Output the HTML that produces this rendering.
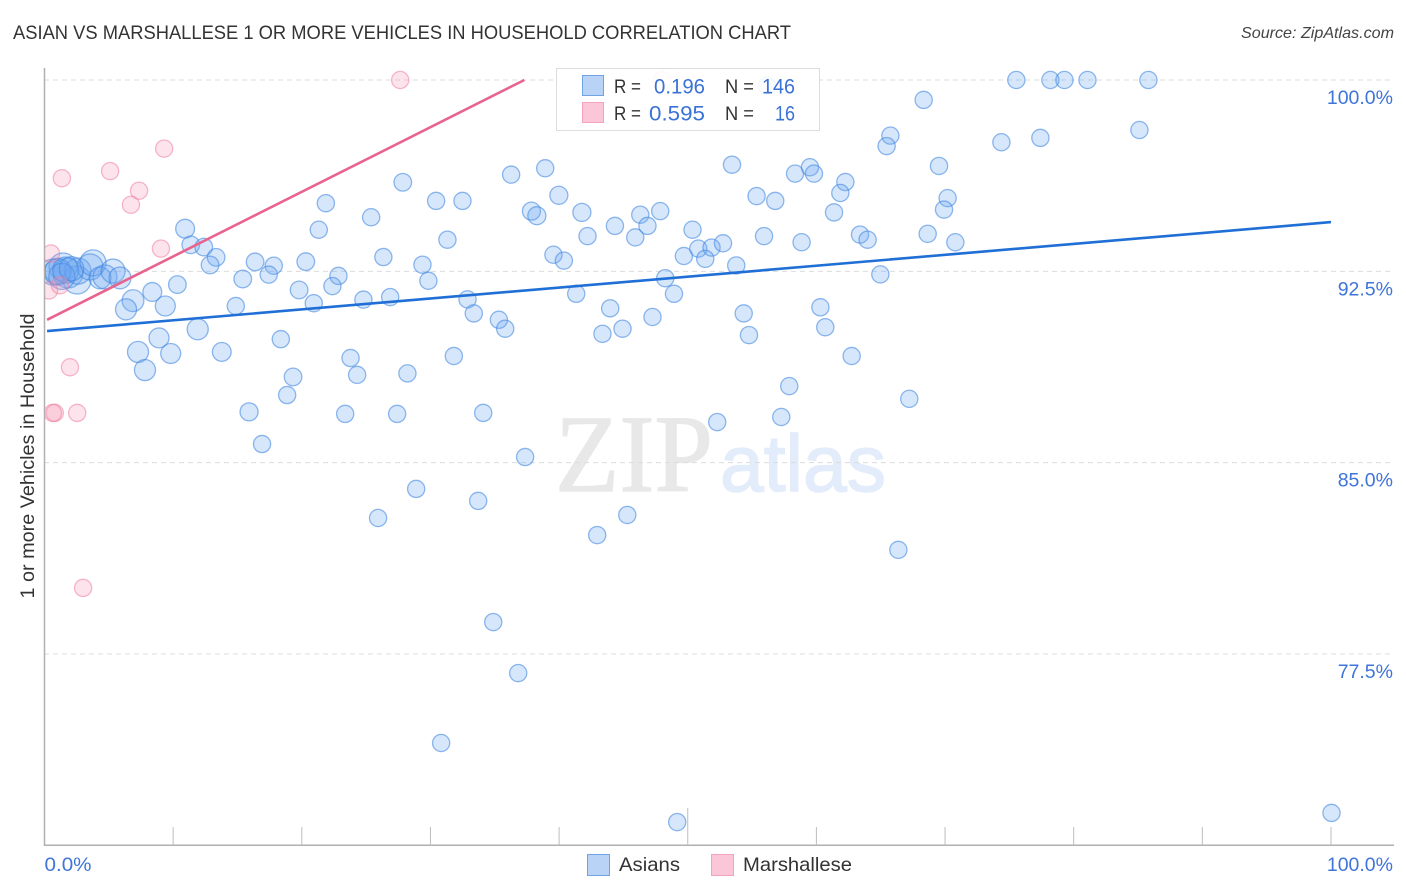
<!DOCTYPE html>
<html lang="en">
<head>
<meta charset="utf-8">
<title>Asian vs Marshallese correlation chart</title>
<style>
html,body{margin:0;padding:0;background:#fff}
svg{display:block;font-family:"Liberation Sans",sans-serif}
</style>
</head>
<body>
<svg id="chart" xmlns="http://www.w3.org/2000/svg" width="1406" height="892" viewBox="0 0 1406 892">
  <defs>
    <clipPath id="plot-clip"><rect x="45" y="60" width="1349" height="786"></rect></clipPath>
  </defs>
  <rect x="0" y="0" width="1406" height="892" fill="#ffffff"></rect>
  <text x="13" y="39" font-size="19" fill="#333333" textLength="778" lengthAdjust="spacingAndGlyphs">ASIAN VS MARSHALLESE 1 OR MORE VEHICLES IN HOUSEHOLD CORRELATION CHART</text>
  <text x="1241" y="38" font-size="16" font-style="italic" fill="#444444" textLength="153" lengthAdjust="spacingAndGlyphs">Source: ZipAtlas.com</text>
  <text x="555" y="491" font-family="'Liberation Serif',serif" font-size="110" fill="#e8e8e8" stroke="#e8e8e8" stroke-width="1.2" textLength="158" lengthAdjust="spacingAndGlyphs">ZIP</text>
  <text x="720" y="491" font-size="80" fill="#e3ecfa" stroke="#e3ecfa" stroke-width="1.5" textLength="166" lengthAdjust="spacingAndGlyphs">atlas</text>
  <g id="grid-layer"></g>
  <g id="axis-layer"></g>
  <g id="asian-layer" clip-path="url(#plot-clip)"></g>
  <g id="marshallese-layer" clip-path="url(#plot-clip)"></g>
  <g id="trend-layer"></g>
  <text transform="translate(34,456) rotate(-90)" font-size="19" fill="#333333" text-anchor="middle" textLength="285" lengthAdjust="spacingAndGlyphs">1 or more Vehicles in Household</text>

  <g>
    <rect x="556.5" y="68.5" width="263" height="62" fill="#ffffff" fill-opacity="0.9" stroke="#dddddd" stroke-width="1"></rect>
    <rect x="582.5" y="75.5" width="21" height="20" fill="#b9d3f6" stroke="#6fa3e6" stroke-width="1"></rect>
    <rect x="582.5" y="102.5" width="21" height="20" fill="#fbc6d7" stroke="#f3a3bd" stroke-width="1"></rect>
    <text x="614" y="93" font-size="19" fill="#333333" textLength="27" lengthAdjust="spacingAndGlyphs">R =</text>
    <text x="654" y="93.5" font-size="21" fill="#3a72d6" textLength="51" lengthAdjust="spacingAndGlyphs">0.196</text>
    <text x="725" y="93" font-size="19" fill="#333333" textLength="29" lengthAdjust="spacingAndGlyphs">N =</text>
    <text x="762" y="93.5" font-size="21" fill="#3a72d6" textLength="33" lengthAdjust="spacingAndGlyphs">146</text>
    <text x="614" y="120" font-size="19" fill="#333333" textLength="27" lengthAdjust="spacingAndGlyphs">R =</text>
    <text x="649" y="120.5" font-size="21" fill="#3a72d6" textLength="56" lengthAdjust="spacingAndGlyphs">0.595</text>
    <text x="725" y="120" font-size="19" fill="#333333" textLength="29" lengthAdjust="spacingAndGlyphs">N =</text>
    <text x="775" y="120.5" font-size="21" fill="#3a72d6" textLength="20" lengthAdjust="spacingAndGlyphs">16</text>
  </g>

  <g>
    <rect x="587.5" y="854.5" width="22" height="21" fill="#b9d3f6" stroke="#6fa3e6" stroke-width="1"></rect>
    <text x="619" y="871" font-size="19.5" fill="#333333" textLength="61" lengthAdjust="spacingAndGlyphs">Asians</text>
    <rect x="711.5" y="854.5" width="22" height="21" fill="#fbc6d7" stroke="#f3a3bd" stroke-width="1"></rect>
    <text x="743" y="871" font-size="19.5" fill="#333333" textLength="109" lengthAdjust="spacingAndGlyphs">Marshallese</text>
  </g>
</svg>
<script>
// Chart data (percent units)
const xTickValues = [0,10,20,30,40,50,60,70,80,90,100];
const xTallTicks = [50];
const xEdgeLabels = ['0.0%','100.0%'];
const yGridValues = [100,92.5,85,77.5];
const yTickLabels = ['100.0%','92.5%','85.0%','77.5%'];

const asianX = [
10.93,11.37,12.38,13.34,12.87,16.37,17.82,17.43,15.41,20.31,21.87,21.32,25.39,26.34,22.85,22.38,19.79,20.93,24.79,26.87,
14.87,10.33,8.38,6.88,6.34,9.39,11.91,8.90,18.37,7.27,9.81,13.78,7.81,23.79,24.30,19.32,18.86,15.90,16.91,23.37,
27.41,28.21,27.85,30.44,32.49,31.32,36.27,38.92,39.98,37.85,38.27,41.77,42.21,44.34,46.31,47.86,46.87,45.92,39.56,40.37,
29.38,29.84,32.88,33.37,35.32,35.81,31.82,41.33,43.97,43.37,44.93,47.26,48.25,48.93,49.70,50.37,50.82,51.85,51.36,52.74,
53.77,53.44,54.35,68.34,74.38,65.75,65.46,69.53,58.34,59.50,59.81,62.25,61.86,61.37,70.20,69.92,55.35,56.80,55.93,58.85,
63.39,63.98,68.65,70.80,64.97,54.76,60.31,60.69,62.74,56.16,34.10,37.36,28.89,33.71,25.93,42.96,45.30,34.88,36.82,30.83,
49.18,52.29,57.27,57.89,67.22,66.37,100.04,75.54,78.19,79.28,81.07,85.81,85.11,77.41,
0.66,1.44,0.97,1.83,2.53,2.60,3.54,3.77,4.32,4.70,5.33,5.87,1.05,1.65,1.35,2.1];

const asianY = [
94.17,93.54,93.45,93.05,92.75,92.87,92.72,92.37,92.20,92.88,95.17,94.13,94.62,93.06,92.32,91.92,91.77,91.25,91.39,91.49,
91.14,91.98,91.69,91.35,91.01,91.14,90.23,89.89,89.84,89.34,89.28,89.34,88.63,89.10,88.44,88.36,87.65,86.99,85.73,86.91,
86.91,88.50,95.99,95.26,95.26,93.74,96.29,96.54,95.48,94.86,94.68,94.81,93.88,94.28,94.72,94.86,94.28,93.83,93.15,92.92,
92.76,92.13,91.40,90.85,90.60,90.25,89.18,91.62,91.05,90.05,90.25,90.71,92.23,91.62,93.10,94.13,93.39,93.43,92.99,93.60,
92.73,96.68,90.85,99.22,97.56,97.82,97.41,96.63,96.33,96.58,96.33,96.00,95.57,94.81,95.37,94.92,95.45,95.26,93.88,93.64,
93.94,93.74,93.97,93.64,92.38,90.00,91.09,90.31,89.18,99.78,86.95,85.22,83.97,83.50,82.83,82.16,82.95,78.75,76.75,74.01,
70.91,86.59,86.79,88.00,87.50,81.58,71.27,100,100,100,100,100,98.04,97.73,
92.47,92.67,92.47,92.43,92.16,92.51,92.67,92.83,92.24,92.28,92.51,92.24,92.50,92.55,92.30,92.60];

const asianWeight = [
1.2,1.05,1.05,1.05,1.05,1.05,1,1,1.05,1.05,1,1,1,1,1,1,1.05,1,1,1,
1,1.05,1.2,1.6,1.5,1.35,1.5,1.35,1,1.5,1.35,1.2,1.5,1,1,1.05,1,1.1,1,1,
1,1,1.05,1,1,1,1,1,1.1,1.1,1.1,1.1,1,1,1,1,1,1,1,1,
1,1,1,1,1,1,1,1,1,1,1,1,1,1,1,1,1,1,1,1,
1,1,1,1,1,1,1,1,1,1,1,1,1,1,1,1,1,1,1,1,
1,1,1,1,1,1,1,1,1,1,1,1,1,1,1,1,1,1,1,1,
1,1,1,1,1,1,1,1,1,1,1,1,1,1,
2.3,2.65,2.3,3.0,2.65,2.3,2.3,2.3,1.6,1.95,1.95,1.6,2.3,2.3,2.3,2.0];

const marshalleseX = [27.65,48.0,0.5,1.35,5.1,7.35,6.72,9.3,9.05,1.98,0.8,0.65,2.54,3.0,0.35,1.2];
const marshalleseY = [100,100,93.2,96.15,96.43,95.66,95.11,97.31,93.39,88.74,86.95,86.95,86.95,80.09,91.75,91.95];

const trendX = [0.2,100];
const asianTrendY = [90.16,94.43];
const marshalleseTrendX = [0.2,37.3];
const marshalleseTrendY = [90.6,100];

// Axis functions
const xScale = v => 44.5 + 12.865 * v;
const yScale = v => 80 + (100 - v) * 25.51;
const radiusScale = w => 8.6 * Math.sqrt(w);

const NS = 'http://www.w3.org/2000/svg';
function make(tag, parent, attrs, text) {
  const el = document.createElementNS(NS, tag);
  for (const k in attrs) el.setAttribute(k, attrs[k]);
  if (text !== undefined) el.textContent = text;
  parent.appendChild(el);
  return el;
}

const gridLayer = document.getElementById('grid-layer');
const axisLayer = document.getElementById('axis-layer');
const asianLayer = document.getElementById('asian-layer');
const marshLayer = document.getElementById('marshallese-layer');
const trendLayer = document.getElementById('trend-layer');

yGridValues.forEach((v, i) => {
  const line = make('line', gridLayer, {x1:44, x2:1394, y1:yScale(v), y2:yScale(v), stroke:'#dcdcdc', 'stroke-width':1, 'stroke-dasharray':'5 4'});
  
  
  const label = make('text', axisLayer, {x:1393, y:yScale(v) + 24, 'font-size':19.5, fill:'#3f74d8', 'text-anchor':'end'}, yTickLabels[i]);
  
  
});

const yAxisLine = make('line', axisLayer, {x1:44.5, x2:44.5, y1:68, y2:846, stroke:'#b0b0b0', 'stroke-width':1.5});


const xAxisLine = make('line', axisLayer, {x1:44, x2:1394, y1:yScale(70), y2:yScale(70), stroke:'#b0b0b0', 'stroke-width':1.5});



xTickValues.slice(1).forEach(v => {
  const top = xTallTicks.includes(v) ? 808 : 827;
  const tick = make('line', axisLayer, {x1:xScale(v), x2:xScale(v), y1:top, y2:yScale(70), stroke:'#bdbdbd', 'stroke-width':1});
  
  
});

const xLabelMin = make('text', axisLayer, {x:xScale(0), y:871, 'font-size':19.5, fill:'#3f74d8', textLength:47, lengthAdjust:'spacingAndGlyphs'}, xEdgeLabels[0]);


const xLabelMax = make('text', axisLayer, {x:1393, y:871, 'font-size':19.5, fill:'#3f74d8', 'text-anchor':'end'}, xEdgeLabels[1]);



asianX.forEach((v, i) => {
  const c = make('circle', asianLayer, {cx:xScale(v), cy:yScale(asianY[i]), r:radiusScale(asianWeight[i]), fill:'#6ba6f0', 'fill-opacity':0.28, stroke:'#3f86e0', 'stroke-opacity':0.58, 'stroke-width':1.3});
  
  
});

marshalleseX.forEach((v, i) => {
  const c = make('circle', marshLayer, {cx:xScale(v), cy:yScale(marshalleseY[i]), r:radiusScale(1), fill:'#f78fb0', 'fill-opacity':0.25, stroke:'#ee7fa3', 'stroke-opacity':0.55, 'stroke-width':1.3});
  
  
});

const asianTrend = make('line', trendLayer, {x1:xScale(trendX[0]), y1:yScale(asianTrendY[0]), x2:xScale(trendX[1]), y2:yScale(asianTrendY[1]), stroke:'#1f6fd6', 'stroke-width':2.6});


const marshTrend = make('line', trendLayer, {x1:xScale(marshalleseTrendX[0]), y1:yScale(marshalleseTrendY[0]), x2:xScale(marshalleseTrendX[1]), y2:yScale(marshalleseTrendY[1]), stroke:'#e8648f', 'stroke-width':2.6});


</script>
</body>
</html>
